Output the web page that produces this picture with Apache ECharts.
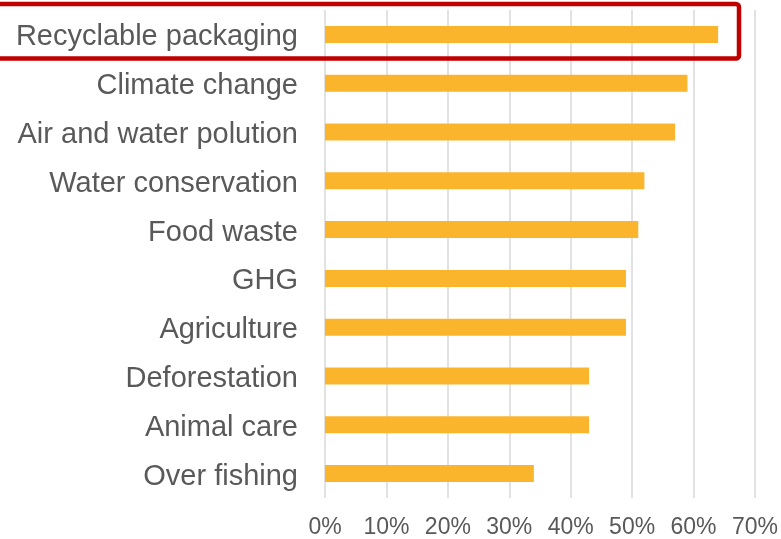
<!DOCTYPE html>
<html>
<head>
<meta charset="utf-8">
<script src="https://cdn.jsdelivr.net/npm/echarts@6/dist/echarts.min.js"></script>
<style>
  html, body { margin: 0; padding: 0; background: #ffffff; }
  #chart { width: 781px; height: 539px; }
</style>
</head>
<body>
<div id="chart"></div>
<script>
// Share of respondents concerned about each topic (%)
const topics = [
  'Recyclable packaging',
  'Climate change',
  'Air and water polution',
  'Water conservation',
  'Food waste',
  'GHG',
  'Agriculture',
  'Deforestation',
  'Animal care',
  'Over fishing'
];
const shares = [64, 59, 57, 52, 51, 49, 49, 43, 43, 34];
const axisMax = 70;
const axisStep = 10;

const chart = echarts.init(document.getElementById('chart'), null, { renderer: 'canvas' });

chart.setOption({
  backgroundColor: '#ffffff',
  animation: false,
  textStyle: { fontFamily: 'Liberation Sans, Arial, sans-serif' },
  grid: { left: 325, right: 26, top: 10, bottom: 41, containLabel: false },
  xAxis: {
    type: 'value',
    min: 0,
    max: axisMax,
    interval: axisStep,
    axisLine: { show: false },
    axisTick: { show: false },
    splitLine: { show: true, lineStyle: { color: '#D9D9D9', width: 1.5 } },
    axisLabel: {
      formatter: '{value}%',
      color: '#595959',
      fontSize: 23,
      margin: 18,
      fontFamily: 'Liberation Sans, Arial, sans-serif'
    }
  },
  yAxis: {
    type: 'category',
    data: topics,
    inverse: true,
    axisLine: { show: false },
    axisTick: { show: false },
    splitLine: { show: false },
    axisLabel: {
      margin: 27,
      formatter: function (v) { return '{t|' + v + '}'; },
      rich: {
        t: {
          color: '#595959',
          fontSize: 29,
          padding: [6, 0, 0, 0],
          fontFamily: 'Liberation Sans, Arial, sans-serif'
        }
      }
    }
  },
  series: [{
    type: 'bar',
    data: shares,
    barWidth: 17,
    itemStyle: { color: '#FBB52C' },
    silent: true
  }],
  graphic: [{
    type: 'rect',
    shape: { x: -10, y: 4, width: 749, height: 54.5, r: 3 },
    style: { fill: 'none', stroke: '#C00000', lineWidth: 4.5 },
    z: 100
  }]
});
</script>
</body>
</html>
